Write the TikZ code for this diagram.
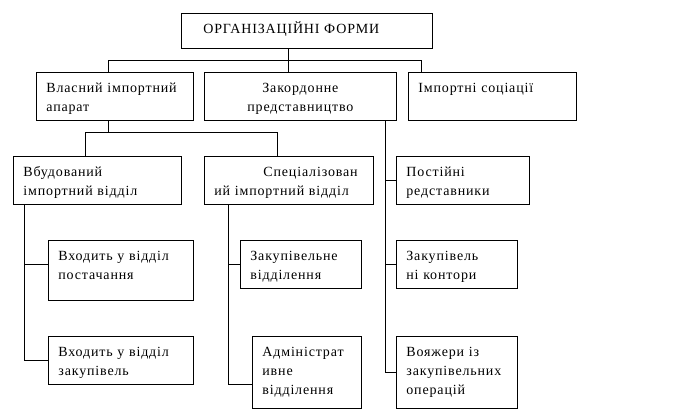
\documentclass[tikz,border=0pt]{standalone}
\usepackage{fontspec}
\setmainfont{Liberation Serif}[LetterSpace=6]
\usepackage{tikz}

\tikzset{
  orgbox/.style={draw, line width=0.8pt, anchor=north west, align=left,
    inner xsep=10pt, inner ysep=0pt, text height=20pt,
    font=\fontsize{14}{19}\selectfont},
  link/.style={line width=0.8pt}
}

\begin{document}
\begin{tikzpicture}[x=1pt, y=-1pt]
      \useasboundingbox (0,0) rectangle (673,409);

      % top level
      \node [orgbox, inner xsep=22pt, text width=207pt, text depth=15pt] (forms) at (181,13) {ОРГАНІЗАЦІЙНІ ФОРМИ};

      % second level
      \node [orgbox, text width=137pt, text depth=28pt] (own) at (36,72) {Власний імпортний\\апарат};
      \node [orgbox, align=center, text width=172pt, text depth=28pt] (abroad) at (204,72) {Закордонне\\представництво};
      \node [orgbox, text width=148pt, text depth=28pt] (assoc) at (408,72) {Імпортні соціації};

      % own import apparatus
      \node [orgbox, text width=148pt, text depth=28pt] (builtin) at (13,156) {Вбудований\\імпортний відділ};
      \node [orgbox, text width=149pt, text depth=28pt] (special) at (204,156) {\hspace*{49pt}Спеціалізован\\ий імпортний відділ};
      \node [orgbox, text width=125pt, text depth=40pt] (supply) at (48,240) {Входить у відділ\\постачання};
      \node [orgbox, text width=125pt, text depth=28pt] (purchase) at (48,336) {Входить у відділ\\закупівель};
      \node [orgbox, text width=101pt, text depth=28pt] (buydept) at (240,240) {Закупівельне\\відділення};
      \node [orgbox, text width=89pt, text depth=52pt] (admin) at (252,336) {Адміністрат\\ивне\\відділення};

      % representation abroad
      \node [orgbox, text width=113pt, text depth=28pt] (reps) at (396,156) {Постійні\\редставники};
      \node [orgbox, text width=101pt, text depth=28pt] (offices) at (396,240) {Закупівель\\ні контори};
      \node [orgbox, text width=101pt, text depth=52pt] (voyag) at (396,336) {Вояжери із\\закупівельних\\операцій};

      % bus lines
      \coordinate (top) at (288,60);
      \coordinate (topl) at (108,60);
      \coordinate (topr) at (421,60);
      \coordinate (midl) at (85,132);
      \coordinate (midr) at (277,132);
      \coordinate (spinea) at (24,0);
      \coordinate (spineb) at (228,0);
      \coordinate (spinec) at (385,0);

      \draw [link] (top |- forms.south) -- (top |- abroad.north);
      \draw [link] (topl |- own.north) -- (topl) -- (topr) -- (topr |- assoc.north);
      \draw [link] (topl |- own.south) -- (topl |- midl);
      \draw [link] (midl |- builtin.north) -- (midl) -- (midr) -- (midr |- special.north);

      \draw [link] (spinea |- builtin.south) -- (spinea |- purchase.west) -- (purchase.west);
      \draw [link] (spinea |- supply.west) ++(0,-6) -- ([yshift=6pt]supply.west);

      \draw [link] (spineb |- special.south) -- ([yshift=-12pt]spineb |- admin.west) -- ([yshift=-12pt]admin.west);
      \draw [link] (spineb |- buydept.west) -- (buydept.west);

      \draw [link] (spinec |- abroad.south) -- (spinec |- voyag.west) -- (voyag.west);
      \draw [link] (spinec |- reps.west) -- (reps.west);
      \draw [link] (spinec |- offices.west) -- (offices.west);
    \end{tikzpicture}
\end{document}
